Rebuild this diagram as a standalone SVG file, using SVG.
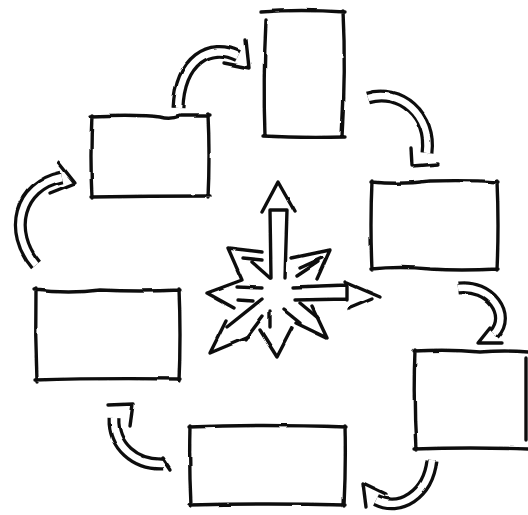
<svg xmlns="http://www.w3.org/2000/svg" width="528" height="515" viewBox="0 0 528 515">
<style>
.s{fill:none;stroke:#111;stroke-width:3.4;stroke-linecap:round;stroke-linejoin:round}
.bo{fill:none;stroke:#111;stroke-width:13;stroke-linecap:butt}
.bi{fill:none;stroke:#fff;stroke-width:6.5;stroke-linecap:butt}
</style>
<defs>
<filter id="rough" x="-5%" y="-5%" width="110%" height="110%">
<feTurbulence type="fractalNoise" baseFrequency="0.04" numOctaves="2" seed="3"/>
<feDisplacementMap in="SourceGraphic" scale="2.5" xChannelSelector="R" yChannelSelector="G"/>
</filter>
</defs>
<rect width="528" height="515" fill="#fff"/>
<g filter="url(#rough)">
<g id="node-top">
<path class="s" d="M261,12 Q300,9 345,12 M266,20 Q263,80 265,136 M343,11 Q346,70 342,137 M263,136 Q300,138 345,137"/>
</g>
<g id="node-upper-left">
<path class="s" d="M90,116 Q140,114 160,117 Q170,120 180,116 L210,116 M92,115 Q90,155 92,198 M208,115 Q210,155 208,198 M91,197 Q150,196 210,196"/>
</g>
<g id="node-right-upper">
<path class="s" d="M371,182 Q400,185 430,181 Q470,180 498,182 M372,181 Q370,225 372,270 M497,181 Q499,225 497,270 M371,269 Q400,266 430,269 Q460,271 498,269"/>
</g>
<g id="node-left">
<path class="s" d="M34,290 Q70,294 100,290 Q140,292 180,290 M36,289 Q35,335 37,382 M179,289 Q181,335 179,381 M35,380 Q100,378 180,379"/>
</g>
<g id="node-right-lower">
<path class="s" d="M414,351 Q450,349 480,352 Q505,350 528,352 M415,350 Q413,400 416,450 M526,358 L526,440 M414,449 Q470,447 528,449"/>
</g>
<g id="node-bottom">
<path class="s" d="M189,427 Q260,424 346,427 M190,426 Q189,465 191,506 M345,426 Q346,465 344,506 M190,505 Q270,503 345,505"/>
</g>
<g id="center-star">
<path class="s" d="M270,210 L271,278 M287,210 L285,278 M270,210 L287,210 M262,212 L278,182 L295,212"/>
<path class="s" d="M293,287 L347,285 M295,300 L347,299 M347,285 L347,300 M345,282 L380,297 M348,309 L372,299"/>
<path class="s" d="M292,258 L330,250 L317,279 M312,306 L327,338 L296,323 M292,328 L277,357 L260,330 M248,337 L210,353 L226,321 M234,308 L207,293 L242,280 L228,248 L262,252"/>
<path class="s" d="M243,258 L262,260 M252,262 L270,278 M237,287 L262,288 M238,300 L253,301 M227,327 L262,299 M245,340 L263,316 M270,311 L270,327 M284,310 L300,323 M300,303 L318,318 M297,276 L318,262 M300,268 L322,258"/>
</g>
</g>
<g id="connectors" filter="url(#rough)">
<path class="bo" d="M178,108 C180,60 210,42 238,56"/>
<path class="bi" d="M178,108 C180,60 210,42 238,56"/>
<path class="s" d="M246,40 L249,68 L224,63"/>
<path class="bo" d="M368,98 C400,88 432,115 427,153"/>
<path class="bi" d="M368,98 C400,88 432,115 427,153"/>
<path class="s" d="M411,148 L412,166 L438,164"/>
<path class="bo" d="M458,288 C490,284 512,315 494,334"/>
<path class="bi" d="M458,288 C490,284 512,315 494,334"/>
<path class="s" d="M490,328 L478,343 L502,343"/>
<path class="bo" d="M432,460 C428,495 400,512 376,500"/>
<path class="bi" d="M432,460 C428,495 400,512 376,500"/>
<path class="s" d="M386,494 L363,483 L366,507"/>
<path class="bo" d="M114,418 C113,446 135,465 163,464"/>
<path class="bi" d="M114,418 C113,446 135,465 163,464"/>
<path class="s" d="M108,405 L133,404 L130,426 M162,458 L170,470"/>
<path class="bo" d="M36,265 C8,232 18,186 62,177"/>
<path class="bi" d="M36,265 C8,232 18,186 62,177"/>
<path class="s" d="M59,163 L75,183 L50,193"/>
</g>
</svg>
